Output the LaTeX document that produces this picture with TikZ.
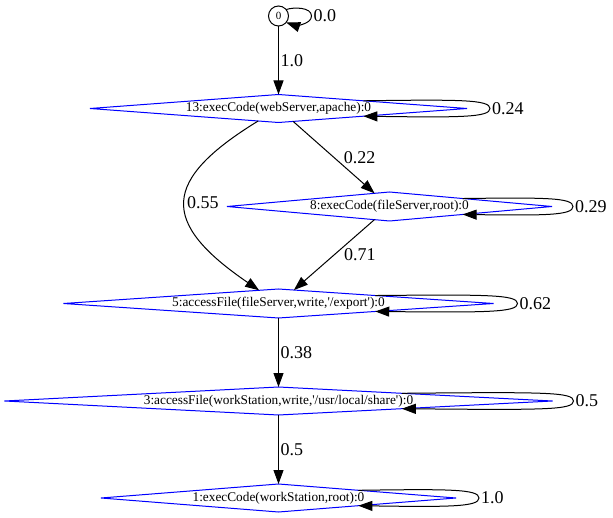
\documentclass[tikz,border=0pt]{standalone}
\usepackage{fontspec}
\setmainfont{Liberation Serif}
\usetikzlibrary{shapes.geometric,arrows.meta,calc}
\tikzset{
  dnode/.style={diamond, draw=blue, line width=1pt, inner sep=0pt, outer sep=0pt, font=\fontsize{13.3}{15}\selectfont},
  cnode/.style={circle, draw=black, line width=1pt, inner sep=0pt, outer sep=0pt, minimum size=20pt, font=\fontsize{11}{13}\selectfont},
  edge/.style={draw, line width=1pt, -{Triangle[length=14pt,width=10pt]}},
  elabel/.style={font=\fontsize{18}{20}\selectfont, inner sep=1.5pt},
}
\newcommand\dgloop[4]{% node, label, fraction, extra right
  \draw[edge] ($(#1.north)!#3!(#1.east)$) .. controls ($(#1.east)+(-8,-9)$) and ($(#1.east)+(#4,-9)$) .. ($(#1.east)+(#4,0)$) node[elabel,anchor=west] {#2} .. controls ($(#1.east)+(#4,9)$) and ($(#1.east)+(-8,9)$) .. ($(#1.south)!#3!(#1.east)$);
}
\newcommand\sq{\textquotesingle}
\begin{document}
\begin{tikzpicture}[x=1pt,y=-1pt]
\useasboundingbox (0,0) rectangle (613,518);
\node[cnode] (n0) at (278.5,16) {0};
\node[dnode, minimum width=377pt, minimum height=28pt, shape aspect=13.46] (n13) at (278.5,108.5) {13:execCode(webServer,apache):0};
\node[dnode, minimum width=325pt, minimum height=29pt, shape aspect=11.2] (n8) at (389.5,206.5) {8:execCode(fileServer,root):0};
\node[dnode, minimum width=430pt, minimum height=29pt, shape aspect=14.8] (n5) at (278.5,303.5) {5:accessFile(fileServer,write,\sq/export\sq):0};
\node[dnode, minimum width=548pt, minimum height=28pt, shape aspect=19.6] (n3) at (278.5,401) {3:accessFile(workStation,write,\sq/usr/local/share\sq):0};
\node[dnode, minimum width=355pt, minimum height=28pt, shape aspect=12.7] (n1) at (278.5,498) {1:execCode(workStation,root):0};

\draw[edge] (n0) -- (n13) node[elabel, midway, anchor=west] {1.0};
\draw[edge] (n13) -- (n8) node[elabel, midway, anchor=west, xshift=8pt] {0.22};
\draw[edge] (n13) .. controls (162,180) and (159,222) .. (n5) node[elabel, pos=0.5, anchor=west] {0.55};
\draw[edge] (n8) -- (n5) node[elabel, midway, anchor=west, xshift=8pt] {0.71};
\draw[edge] (n5) -- (n3) node[elabel, midway, anchor=west] {0.38};
\draw[edge] (n3) -- (n1) node[elabel, midway, anchor=west] {0.5};

\draw[edge] (n0.40) .. controls ($(n0.east)+(5,-9)$) and ($(n0.east)+(23,-9)$) .. ($(n0.east)+(23,0)$) node[elabel,anchor=west] {0.0} .. controls ($(n0.east)+(23,9)$) and ($(n0.east)+(5,9)$) .. (n0.-40);
\dgloop{n13}{0.24}{0.45}{23}
\dgloop{n8}{0.29}{0.45}{21}
\dgloop{n5}{0.62}{0.45}{24}
\dgloop{n3}{0.5}{0.45}{21}
\dgloop{n1}{1.0}{0.45}{23}
\end{tikzpicture}
\end{document}
